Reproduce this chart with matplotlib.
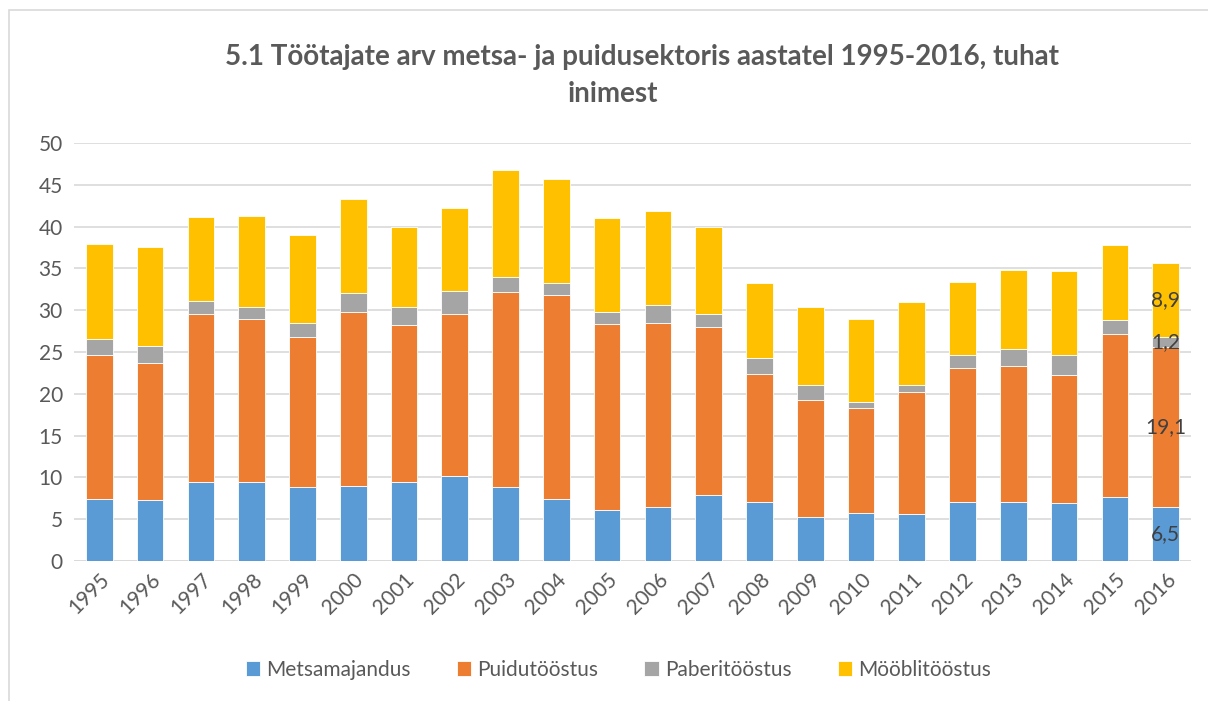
import matplotlib.pyplot as plt
import numpy as np
from matplotlib.patches import Rectangle

plt.rcParams['font.family'] = ['Lato', 'DejaVu Sans']

years = [str(y) for y in range(1995, 2017)]
metsamajandus = [7.4, 7.3, 9.5, 9.5, 8.85, 9.0, 9.4, 10.2, 8.9, 7.4, 6.1,
                 6.4, 7.9, 7.1, 5.3, 5.7, 5.6, 7.1, 7.1, 6.9, 7.7, 6.5]
puidutoostus = [17.3, 16.4, 20.1, 19.4, 17.9, 20.8, 18.8, 19.3, 23.3, 24.4, 22.2,
                22.1, 20.1, 15.3, 14.0, 12.6, 14.6, 16.0, 16.2, 15.4, 19.4, 19.1]
paberitoostus = [1.9, 2.0, 1.55, 1.5, 1.7, 2.2, 2.2, 2.75, 1.8, 1.5, 1.5,
                 2.15, 1.6, 1.9, 1.75, 0.7, 0.85, 1.6, 2.0, 2.4, 1.7, 1.2]
mooblitoostus = [11.3, 11.9, 10.05, 10.9, 10.6, 11.3, 9.5, 9.95, 12.8, 12.4, 11.2,
                 11.2, 10.3, 8.9, 9.3, 9.9, 9.9, 8.65, 9.5, 10.0, 9.0, 8.9]

series = [
    ("Metsamajandus", metsamajandus, "#5B9BD5"),
    ("Puidutööstus", puidutoostus, "#ED7D31"),
    ("Paberitööstus", paberitoostus, "#A5A5A5"),
    ("Mööblitööstus", mooblitoostus, "#FFC000"),
]

fig = plt.figure(figsize=(12.08, 7.01), dpi=100)
ax = fig.add_axes([74 / 1208, 1 - 561 / 701, (1191 - 74) / 1208, (561 - 143) / 701])

# chart border
fig.patches.append(Rectangle((9 / 1208, -0.1), 1.2, (701 - 10) / 701 + 0.1,
                             transform=fig.transFigure, fill=False,
                             edgecolor="#d9d9d9", linewidth=1.2))

x = np.arange(len(years))
bottom = np.zeros(len(years))
for name, vals, color in series:
    vals = np.array(vals)
    ax.bar(x, vals, width=0.525, bottom=bottom, color=color,
           edgecolor="white", linewidth=0.6, label=name, zorder=3)
    # label only the last year
    ax.text(x[-1], bottom[-1] + vals[-1] / 2, f"{vals[-1]:.1f}".replace(".", ","),
            ha="center", va="center", fontsize=15, color="#404040", zorder=4)
    bottom += vals

ax.set_xlim(-0.5, len(years) - 0.5)
ax.set_ylim(0, 50)
ax.set_yticks(range(0, 51, 5))
ax.grid(axis="y", color="#d9d9d9", linewidth=1.2, zorder=0)
for s in ax.spines.values():
    s.set_visible(False)
ax.axhline(0, color="#d9d9d9", linewidth=1.2, zorder=2)
ax.tick_params(axis="both", length=0, labelsize=15, colors="#595959", pad=8)
ax.set_xticks(x)
ax.set_xticklabels(years, rotation=45, ha="right", rotation_mode="anchor")
ax.tick_params(axis="x", pad=6)

fig.text(642 / 1208, 1 - 57 / 701, "5.1 Töötajate arv metsa- ja puidusektoris aastatel 1995-2016, tuhat",
         ha="center", va="center", fontsize=20, fontweight="bold", color="#595959")
fig.text(613 / 1208, 1 - 94 / 701, "inimest",
         ha="center", va="center", fontsize=20, fontweight="bold", color="#595959")

fig.legend(loc="center", bbox_to_anchor=(0.512, 1 - 670 / 701), ncol=4, frameon=False,
           fontsize=15, labelcolor="#595959", handlelength=0.7, handleheight=0.7,
           handletextpad=0.3, columnspacing=2.2)

fig.savefig("out.png", dpi=100)
